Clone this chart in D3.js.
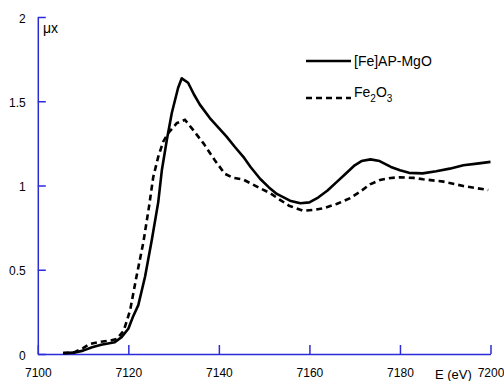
<!DOCTYPE html>
<html>
<head>
<meta charset="utf-8">
<script src="https://cdn.jsdelivr.net/npm/d3@7"></script>
<style>
  body { margin: 0; background: #fff; }
  svg { font-family: "Liberation Sans", Arial, sans-serif; }
</style>
</head>
<body>
<svg id="chart" width="504" height="381"></svg>
<script>
// [Fe]AP-MgO (solid)
var mgoE = [7105.6, 7108, 7110, 7112, 7114, 7117, 7118.5, 7120, 7121, 7122.2, 7123.7, 7125.2, 7126.6, 7127.4, 7128.5, 7129.6, 7131, 7131.8, 7133.2, 7134.5, 7135.8, 7138, 7140, 7141.7, 7143.5, 7145.4, 7147, 7149.1, 7151, 7152.8, 7155.7, 7158, 7160, 7162, 7164, 7166, 7168, 7170, 7171.5, 7173.5, 7175.5, 7178, 7180, 7182, 7185, 7188, 7191, 7194, 7197, 7200];
var mgoMu = [0.005, 0.008, 0.02, 0.04, 0.055, 0.07, 0.10, 0.15, 0.22, 0.29, 0.46, 0.68, 0.90, 1.09, 1.27, 1.43, 1.58, 1.636, 1.61, 1.54, 1.48, 1.40, 1.34, 1.29, 1.23, 1.17, 1.11, 1.04, 0.99, 0.95, 0.91, 0.895, 0.90, 0.93, 0.97, 1.02, 1.07, 1.12, 1.145, 1.155, 1.145, 1.11, 1.09, 1.075, 1.072, 1.085, 1.10, 1.12, 1.13, 1.14];

// Fe2O3 (dashed)
var feE = [7105.6, 7108, 7110, 7111.5, 7113.7, 7116, 7117.5, 7119, 7120.4, 7121.8, 7123.3, 7124.6, 7125.5, 7126.6, 7127.7, 7128.8, 7130.7, 7132.5, 7134.3, 7136.6, 7139.1, 7141.3, 7143.2, 7145.4, 7148.3, 7151.3, 7153.5, 7155.5, 7158.6, 7161, 7163.1, 7166, 7169, 7171.2, 7173.4, 7175.6, 7178, 7180, 7183, 7185.1, 7189.6, 7194, 7199.5];
var feMu = [0.005, 0.01, 0.035, 0.06, 0.072, 0.08, 0.09, 0.14, 0.26, 0.46, 0.66, 0.88, 1.05, 1.17, 1.26, 1.31, 1.37, 1.39, 1.33, 1.25, 1.15, 1.07, 1.045, 1.035, 0.995, 0.955, 0.915, 0.88, 0.85, 0.855, 0.865, 0.89, 0.925, 0.963, 1.007, 1.033, 1.045, 1.049, 1.045, 1.037, 1.023, 0.997, 0.973];

var xTicks = [7100, 7120, 7140, 7160, 7180, 7200];
var yTicks = [0, 0.5, 1, 1.5, 2];

var axisColor = "#2b2bd9";

var svg = d3.select("#chart");

var x = d3.scaleLinear().domain([7100, 7200]).range([37.8, 490.5]);
var y = d3.scaleLinear().domain([0, 2]).range([354, 17]);

// axes
var xAxis = d3.axisBottom(x)
  .tickValues(xTicks)
  .tickFormat(d3.format("d"))
  .tickSizeInner(-9)
  .tickSizeOuter(0)
  .tickPadding(14.5);

var yAxis = d3.axisLeft(y)
  .tickValues(yTicks)
  .tickFormat(function(d) { return d; })
  .tickSizeInner(-8)
  .tickSizeOuter(0)
  .tickPadding(12);

var gx = svg.append("g").attr("transform", "translate(0,354)").call(xAxis);
var gy = svg.append("g").attr("transform", "translate(37.8,0)").call(yAxis);

[gx, gy].forEach(function(g) {
  g.select(".domain").attr("stroke", axisColor).attr("stroke-width", 1.5);
  g.selectAll(".tick line").attr("stroke", axisColor).attr("stroke-width", 1.5);
  g.selectAll(".tick text")
    .attr("fill", "#000")
    .style("font-size", "12px")
    .style("font-family", "'Liberation Sans', Arial, sans-serif");
});
gy.selectAll(".tick text").attr("dy", "0.42em");

// axis titles
svg.append("text")
  .attr("x", 43)
  .attr("y", 33)
  .style("font-size", "14px")
  .text("\u03bcx");

svg.append("text")
  .attr("x", 435)
  .attr("y", 379)
  .style("font-size", "13px")
  .text("E (eV)");

// data lines
var line = d3.line()
  .x(function(d) { return x(d[0]); })
  .y(function(d) { return y(d[1]); });

var mgo = d3.zip(mgoE, mgoMu);
var fe = d3.zip(feE, feMu);

svg.append("path")
  .datum(fe)
  .attr("fill", "none")
  .attr("stroke", "#000")
  .attr("stroke-width", 2.6)
  .attr("stroke-dasharray", "6,4")
  .attr("d", line);

svg.append("path")
  .datum(mgo)
  .attr("fill", "none")
  .attr("stroke", "#000")
  .attr("stroke-width", 2.6)
  .attr("stroke-linejoin", "round")
  .attr("d", line);

// legend
var legend = svg.append("g");
legend.append("line")
  .attr("x1", 306).attr("x2", 351)
  .attr("y1", 61).attr("y2", 61)
  .attr("stroke", "#000").attr("stroke-width", 2.6);
legend.append("text")
  .attr("x", 354).attr("y", 66)
  .style("font-size", "14px")
  .text("[Fe]AP-MgO");

legend.append("line")
  .attr("x1", 306).attr("x2", 351)
  .attr("y1", 98).attr("y2", 98)
  .attr("stroke", "#000").attr("stroke-width", 2.6)
  .attr("stroke-dasharray", "6,4");
var t = legend.append("text")
  .attr("x", 354).attr("y", 97)
  .style("font-size", "14px");
t.append("tspan").text("Fe");
t.append("tspan").attr("dy", 5).style("font-size", "10px").text("2");
t.append("tspan").attr("dy", -5).text("O");
t.append("tspan").attr("dy", 5).style("font-size", "10px").text("3");
</script>
</body>
</html>
